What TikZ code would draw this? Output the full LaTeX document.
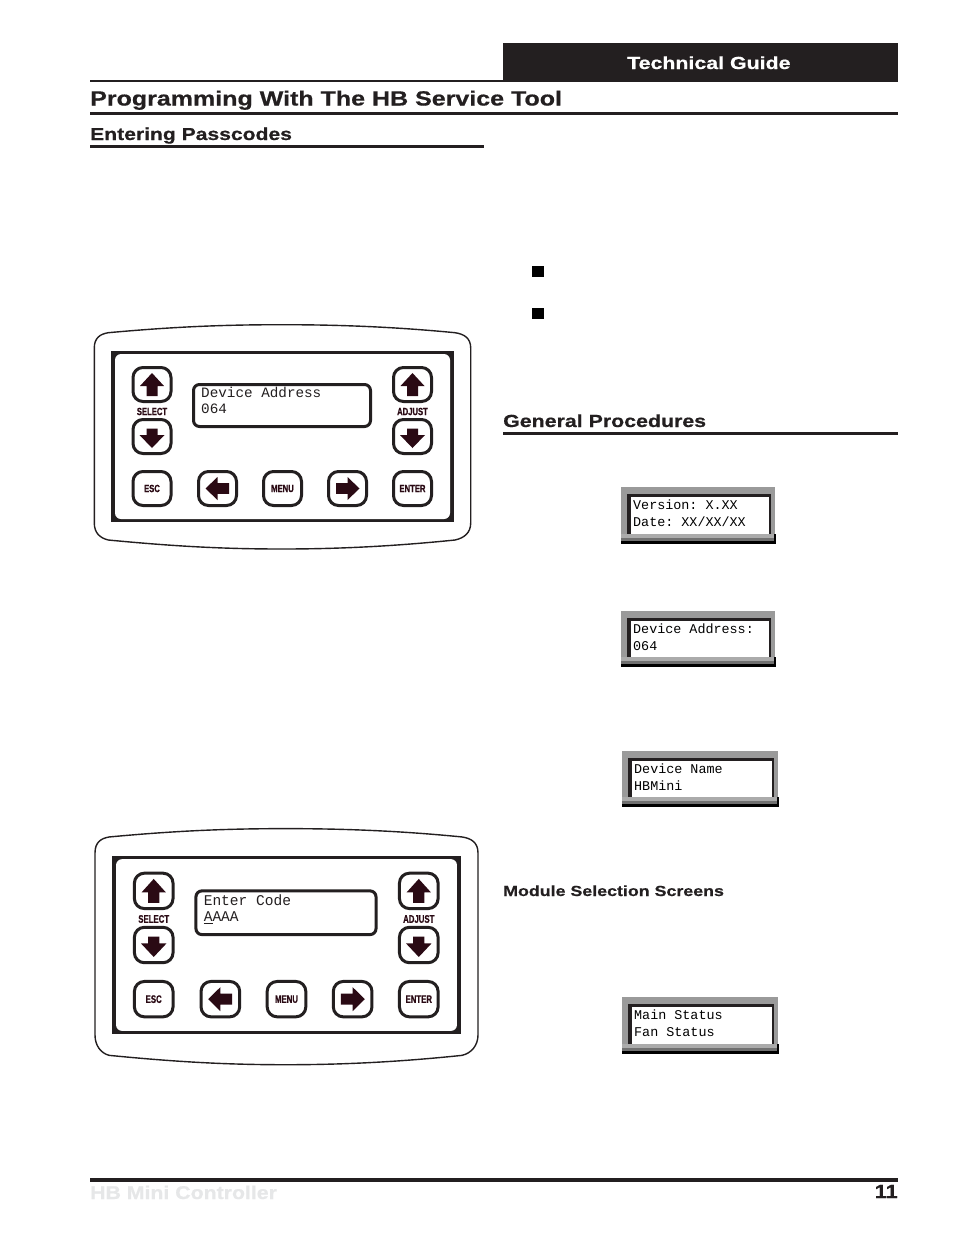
\documentclass[tikz,border=0pt]{standalone}
\usepackage{fontspec}
\setmonofont{Liberation Mono}
\newfontfamily\headfont[FakeStretch=1.22,FakeBold=0.6]{Liberation Sans}
\newfontfamily\footfont[FakeStretch=1.15,FakeBold=0.6]{Liberation Sans}
\newfontfamily\keyfont[FakeStretch=0.73,FakeBold=0.7]{Liberation Sans}
\definecolor{ink}{HTML}{231F20}
\definecolor{keyink}{HTML}{2A0A14}
\definecolor{lcdgrey}{HTML}{9A9A9A}
\definecolor{lcdpale}{HTML}{ABABAB}
\definecolor{lcddark}{HTML}{707070}
\definecolor{footgrey}{HTML}{E6E7E8}
\tikzset{
  headtext/.style={inner sep=0pt,anchor=base west,text=ink,font=\headfont\bfseries},
  btn/.style={draw=ink,fill=white,line width=3pt,rounded corners=10pt,minimum width=38pt,minimum height=34pt,inner sep=0pt,transform shape,text=keyink,font=\keyfont\bfseries\fontsize{10.5}{12}\selectfont},
  keylabel/.style={inner sep=0pt,transform shape,text=keyink,font=\keyfont\bfseries\fontsize{10.5}{12}\selectfont},
  paneltext/.style={inner sep=0pt,anchor=west,transform shape,text=ink,font=\ttfamily\fontsize{14.3}{16}\selectfont},
  lcdtext/.style={inner sep=0pt,anchor=west,text=black,font=\ttfamily\fontsize{13.4}{16}\selectfont},
  keyarrow/.style={fill=keyink},
  panelscreen/.style={draw=ink,fill=white,line width=3pt,rounded corners=6pt,minimum width=177pt,minimum height=42pt,transform shape},
  bar/.style={fill=ink}
}
% name, x, y, label
\newcommand{\keybtn}[4]{\node[btn] (#1) at (#2,#3) {#4};}
\newcommand{\uparrowkey}[3]{\node[btn] (#1) at (#2,#3) {};
  \fill[keyarrow,shift={(#2,#3)}] (0,-11.5) -- (12,1.5) -- (5.5,1.5) -- (5.5,11.5) -- (-5.5,11.5) -- (-5.5,1.5) -- (-12,1.5) -- cycle;}
\newcommand{\downarrowkey}[3]{\node[btn] (#1) at (#2,#3) {};
  \fill[keyarrow,shift={(#2,#3)}] (0,11.5) -- (12.5,-1.5) -- (5.5,-1.5) -- (5.5,-8) -- (-5.5,-8) -- (-5.5,-1.5) -- (-12.5,-1.5) -- cycle;}
\newcommand{\leftarrowkey}[3]{\node[btn] (#1) at (#2,#3) {};
  \fill[keyarrow,shift={(#2,#3)}] (-12,0) -- (0,-11.5) -- (0,-5.3) -- (11.5,-5.3) -- (11.5,5.3) -- (0,5.3) -- (0,11.5) -- cycle;}
\newcommand{\rightarrowkey}[3]{\node[btn] (#1) at (#2,#3) {};
  \fill[keyarrow,shift={(#2,#3)}] (12,0) -- (0,-11.5) -- (0,-5.3) -- (-11.5,-5.3) -- (-11.5,5.3) -- (0,5.3) -- (0,11.5) -- cycle;}
% prefix, x, y, xscale, yscale, line1, line2, text offset, outline bottom extension
\newcommand{\keypanel}[9]{
\begin{scope}[shift={(#2,#3)},xscale=#4,yscale=#5]
  \draw[ink,line width=1.4pt,fill=white] (-16.7,-3)
    .. controls (-16.7,-13) and (-11,-17) .. (-2.7,-18.3)
    .. controls (60,-24) and (110,-26.3) .. (170.7,-26.3)
    .. controls (230,-26.3) and (285,-24) .. (344,-18.3)
    .. controls (353,-17) and (359.7,-13) .. (359.7,-3)
    -- (359.7,172)
    .. controls (359.7,182) and (353,187+#9) .. (344,189+#9)
    .. controls (285,195+#9) and (230,198+#9) .. (170.7,198+#9)
    .. controls (110,198+#9) and (60,195+#9) .. (-2.7,189+#9)
    .. controls (-11,187+#9) and (-16.7,182) .. (-16.7,172) -- cycle;
  \fill[ink] (0,0) rectangle (343,171);
  \fill[white,rounded corners=6pt] (4,3) rectangle (339,168);
  \node[panelscreen] (#1screen) at (171,54.5) {};
  \node[paneltext] (#1lineone) at (90,41.5+#8) {#6};
  \node[paneltext] (#1linetwo) at (90,58+#8) {#7};
  \uparrowkey{#1selup}{41}{33.5}
  \downarrowkey{#1seldown}{41}{85.5}
  \uparrowkey{#1adjup}{301.5}{33.5}
  \downarrowkey{#1adjdown}{301.5}{85.5}
  \node[keylabel] (#1select) at (41,60.5) {SELECT};
  \node[keylabel] (#1adjust) at (301.5,60.5) {ADJUST};
  \keybtn{#1esc}{41}{137.5}{ESC}
  \leftarrowkey{#1left}{106.5}{137.5}
  \keybtn{#1menu}{171.5}{137.5}{MENU}
  \rightarrowkey{#1right}{236.5}{137.5}
  \keybtn{#1enter}{301.5}{137.5}{ENTER}
\end{scope}}
% prefix, x, y, width, height, line1, line2
\newcommand{\lcdbox}[7]{
\begin{scope}[shift={(#2,#3)}]
  \fill[lcdgrey] (0,0) rectangle (#4-1,#5-3);
  \fill[ink] (6,6.5) rectangle (#4-5,#5-10);
  \fill[white] (10,10) rectangle (#4-7,#5-10);
  \fill[lcdpale] (0,#5-10) rectangle (#4,#5-6.5);
  \fill[lcddark] (0,#5-6.5) rectangle (#4,#5-3);
  \fill[black] (0,#5-3) rectangle (#4,#5);
  \fill[black] (#4-2,#5-10) rectangle (#4,#5);
  \node[lcdtext] (#1one) at (12,18) {#6};
  \node[lcdtext] (#1two) at (12,35) {#7};
\end{scope}}
\begin{document}
\begin{tikzpicture}[x=1pt,y=-1pt]
\useasboundingbox (0,0) rectangle (954,1235);
\fill[white] (0,0) rectangle (954,1235);
% header
\fill[bar] (503,43) rectangle (898,81);
\fill[bar] (90,79.5) rectangle (898,82);
\fill[bar] (90,112) rectangle (898,115);
\fill[bar] (90,144.5) rectangle (484,148);
\fill[bar] (503,432) rectangle (898,435);
\fill[bar] (90,1178) rectangle (898,1182);
\node[headtext,text=white,font=\headfont\bfseries\fontsize{17.5}{20}\selectfont] (guide) at (627,69) {Technical Guide};
\node[headtext,font=\headfont\bfseries\fontsize{20.5}{24}\selectfont] (title) at (90,105.5) {Programming With The HB Service Tool};
\node[headtext,font=\headfont\bfseries\fontsize{17.3}{20}\selectfont] (passcodes) at (90,140) {Entering Passcodes};
\node[headtext,font=\headfont\bfseries\fontsize{17.5}{20}\selectfont] (general) at (503,427) {General Procedures};
\node[headtext,font=\headfont\bfseries\fontsize{14.6}{18}\selectfont] (module) at (503,896) {Module Selection Screens};
\node[headtext,text=footgrey,font=\footfont\bfseries\fontsize{18.5}{22}\selectfont] (footer) at (90,1199) {HB Mini Controller};
\node[headtext,anchor=base east,font=\footfont\bfseries\fontsize{19}{24}\selectfont] (pagenum) at (898,1198) {11};
% bullets
\fill[black] (532.3,265.7) rectangle (544,277);
\fill[black] (532.3,307.7) rectangle (544,319);
% panels
\keypanel{a}{111}{351}{1}{1}{Device Address}{064}{0}{0}
\keypanel{b}{112}{856}{1.0175}{1.041}{Enter Code}{\underline{A}AAA}{1}{2.5}
% displays
\lcdbox{v}{621}{487}{155}{57}{Version: X.XX}{Date: XX/XX/XX}
\lcdbox{d}{621}{611}{155}{56}{Device Address:}{064}
\lcdbox{n}{622}{751}{157}{56}{Device Name}{HBMini}
\lcdbox{m}{622}{997}{157}{57}{Main Status}{Fan Status}
\end{tikzpicture}
\end{document}
